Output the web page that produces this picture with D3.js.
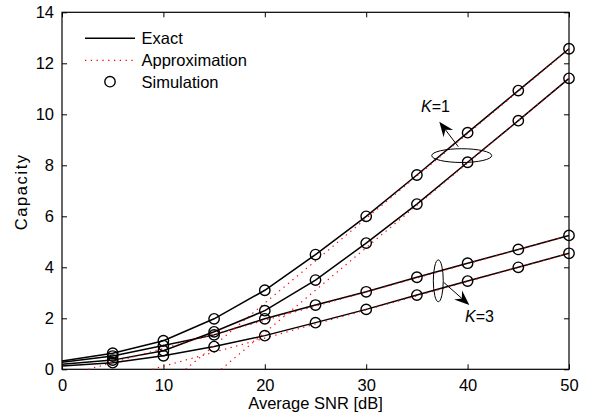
<!DOCTYPE html>
<html>
<head>
<meta charset="utf-8">
<script src="https://cdn.jsdelivr.net/npm/d3@7"></script>
<style>
  body { margin: 0; background: #fff; }
  svg { display: block; font-family: "Liberation Sans", Arial, sans-serif; }
</style>
</head>
<body>
<div id="chart"></div>
<script>
// SNR points (dB) used by exact curves and simulation markers
const snr = [0, 5, 10, 15, 20, 25, 30, 35, 40, 45, 50];

// exact capacity
const exactK1a = [0.33, 0.63, 1.12, 1.98, 3.1, 4.5, 6.0, 7.62, 9.28, 10.93, 12.57];
const exactK1b = [0.2, 0.36, 0.73, 1.47, 2.3, 3.5, 4.95, 6.48, 8.12, 9.75, 11.41];
const exactK3a = [0.28, 0.52, 0.93, 1.35, 1.98, 2.52, 3.04, 3.61, 4.16, 4.7, 5.25];
const exactK3b = [0.13, 0.26, 0.53, 0.89, 1.32, 1.83, 2.35, 2.91, 3.46, 4.0, 4.55];

// high-SNR approximation, [snr, capacity] (starts where it crosses zero)
const approxK1a = [[12.2, 0], [15, 0.93], [20, 2.6], [25, 4.25], [30, 5.92], [35, 7.58], [40, 9.24], [45, 10.9], [50, 12.55]];
const approxK1b = [[15.7, 0], [20, 1.44], [25, 3.1], [30, 4.77], [35, 6.43], [40, 8.09], [45, 9.75], [50, 11.41]];
const approxK3a = [[2.6, 0], [5, 0.26], [10, 0.82], [15, 1.37], [20, 1.92], [25, 2.48], [30, 3.03], [35, 3.58], [40, 4.14], [45, 4.69], [50, 5.25]];
const approxK3b = [[8.9, 0], [10, 0.12], [15, 0.67], [20, 1.22], [25, 1.78], [30, 2.33], [35, 2.88], [40, 3.44], [45, 3.99], [50, 4.55]];

// simulation markers are drawn at 5..50 dB
const simSnr = [5, 10, 15, 20, 25, 30, 35, 40, 45, 50];

const xTicks = [0, 10, 20, 30, 40, 50];
const yTicks = [0, 2, 4, 6, 8, 10, 12, 14];
const legendLabels = ["Exact", "Approximation", "Simulation"];

const width = 590, height = 416;
const margin = { top: 12.3, right: 21, bottom: 46.7, left: 62 };

const svg = d3.select("#chart").append("svg")
  .attr("width", width)
  .attr("height", height);

const x = d3.scaleLinear().domain([0, 50]).range([margin.left, width - margin.right]);
const y = d3.scaleLinear().domain([0, 14]).range([height - margin.bottom, margin.top]);

// axes, ticks pointing inward on all four sides
const tick = 5;
svg.append("g")
  .attr("transform", `translate(0,${y(0)})`)
  .call(d3.axisBottom(x).tickValues(xTicks).tickSizeInner(-tick).tickSizeOuter(0).tickPadding(10));
svg.append("g")
  .attr("transform", `translate(${x(0)},0)`)
  .call(d3.axisLeft(y).tickValues(yTicks).tickSizeInner(-tick).tickSizeOuter(0).tickPadding(8));
svg.append("g")
  .attr("transform", `translate(0,${y(14)})`)
  .call(d3.axisTop(x).tickValues(xTicks).tickSizeInner(-tick).tickSizeOuter(0).tickFormat(""));
svg.append("g")
  .attr("transform", `translate(${x(50)},0)`)
  .call(d3.axisRight(y).tickValues(yTicks).tickSizeInner(-tick).tickSizeOuter(0).tickFormat(""));

svg.selectAll(".domain").remove();
svg.selectAll(".tick line").attr("stroke", "#000").attr("stroke-width", 1);
svg.selectAll(".tick text").attr("font-size", 16.5).attr("fill", "#000")
  .attr("font-family", "Liberation Sans, Arial, sans-serif");

svg.append("rect")
  .attr("x", x(0)).attr("y", y(14))
  .attr("width", x(50) - x(0)).attr("height", y(0) - y(14))
  .attr("fill", "none").attr("stroke", "#000").attr("stroke-width", 1.2);

// axis titles
svg.append("text")
  .attr("x", (x(0) + x(50)) / 2).attr("y", 409)
  .attr("text-anchor", "middle").attr("font-size", 16.5)
  .text("Average SNR [dB]");
svg.append("text")
  .attr("transform", `translate(26.5,${(y(0) + y(14)) / 2 + 1}) rotate(-90)`)
  .attr("text-anchor", "middle").attr("font-size", 16.5)
  .attr("letter-spacing", 1.6)
  .text("Capacity");

const line = d3.line().x(d => x(d[0])).y(d => y(d[1]));
const plot = svg.append("g");

// exact curves
[exactK1a, exactK1b, exactK3a, exactK3b].forEach(vals => {
  plot.append("path")
    .attr("d", line(snr.map((s, i) => [s, vals[i]])))
    .attr("fill", "none").attr("stroke", "#000").attr("stroke-width", 1.5);
});

// approximations (dotted red, on top of exact lines)
[approxK1a, approxK1b, approxK3a, approxK3b].forEach(pts => {
  plot.append("path")
    .attr("d", line(pts))
    .attr("fill", "none").attr("stroke", "#f00").attr("stroke-width", 1.2)
    .attr("stroke-dasharray", "1.3,4.5");
});

// simulation markers
[exactK1a, exactK1b, exactK3a, exactK3b].forEach(vals => {
  plot.selectAll(null)
    .data(simSnr)
    .join("circle")
    .attr("cx", d => x(d))
    .attr("cy", d => y(vals[snr.indexOf(d)]))
    .attr("r", 5.2)
    .attr("fill", "none").attr("stroke", "#000").attr("stroke-width", 1.4);
});

// annotations: ellipses grouping curves, arrows and K labels (data units)
const ellipses = [
  { cx: 39.42, cy: 8.38, rx: 2.96, ry: 0.27 },
  { cx: 37.11, cy: 3.47, rx: 0.49, ry: 0.82 }
];
const arrows = [
  { from: [39.08, 8.73], to: [37.21, 9.71] },
  { from: [37.67, 3.40], to: [40.17, 2.52] }
];
const labels = [
  { at: [35.4, 10.08], k: "1" },
  { at: [39.74, 1.87], k: "3" }
];

ellipses.forEach(e => {
  svg.append("ellipse")
    .attr("cx", x(e.cx)).attr("cy", y(e.cy))
    .attr("rx", x(e.rx) - x(0)).attr("ry", y(0) - y(e.ry))
    .attr("fill", "none").attr("stroke", "#000").attr("stroke-width", 1);
});

arrows.forEach(a => {
  const x0 = x(a.from[0]), y0 = y(a.from[1]);
  const x1 = x(a.to[0]), y1 = y(a.to[1]);
  const ang = Math.atan2(y1 - y0, x1 - x0);
  const L = 15, W = 6, notch = 10;
  const ux = Math.cos(ang), uy = Math.sin(ang);
  const px = -uy, py = ux;
  const bx = x1 - ux * L, by = y1 - uy * L;
  const nx = x1 - ux * notch, ny = y1 - uy * notch;
  svg.append("line")
    .attr("x1", x0).attr("y1", y0).attr("x2", nx).attr("y2", ny)
    .attr("stroke", "#000").attr("stroke-width", 1);
  svg.append("path")
    .attr("d", `M${x1},${y1}L${bx + px * W},${by + py * W}L${nx},${ny}L${bx - px * W},${by - py * W}Z`)
    .attr("fill", "#000");
});

labels.forEach(l => {
  const t = svg.append("text")
    .attr("x", x(l.at[0])).attr("y", y(l.at[1]))
    .attr("font-size", 16);
  t.append("tspan").attr("font-style", "italic").text("K");
  t.append("tspan").text("=" + l.k);
});

// legend
const lg = svg.append("g");
const rowY = [38.3, 60.3, 81.7];
lg.append("line").attr("x1", 85).attr("x2", 135).attr("y1", rowY[0]).attr("y2", rowY[0])
  .attr("stroke", "#000").attr("stroke-width", 1.5);
lg.append("line").attr("x1", 85).attr("x2", 135).attr("y1", rowY[1]).attr("y2", rowY[1])
  .attr("stroke", "#f00").attr("stroke-width", 1.2).attr("stroke-dasharray", "1.3,4.5");
lg.append("circle").attr("cx", 110).attr("cy", rowY[2]).attr("r", 5.2)
  .attr("fill", "none").attr("stroke", "#000").attr("stroke-width", 1.4);
lg.selectAll("text")
  .data(legendLabels)
  .join("text")
  .attr("x", 141.5)
  .attr("y", (d, i) => rowY[i] + 5.8)
  .attr("font-size", 16.5)
  .text(d => d);
</script>
</body>
</html>
